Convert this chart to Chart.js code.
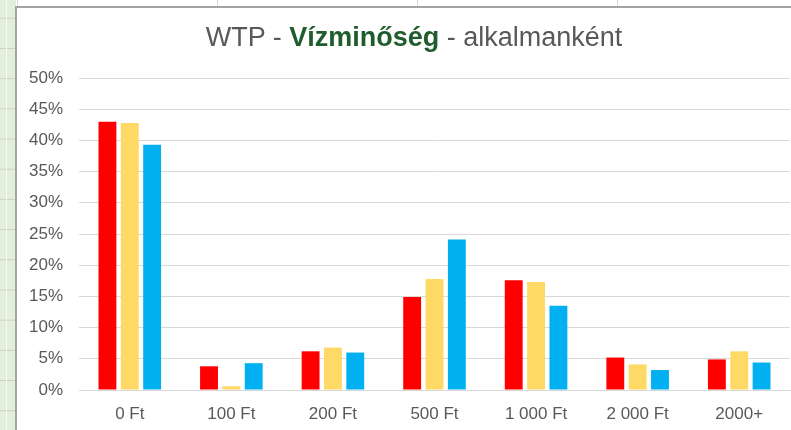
<!DOCTYPE html>
<html>
<head>
<meta charset="utf-8">
<script src="https://cdn.jsdelivr.net/npm/chart.js@4"></script>
<style>
    html, body { margin: 0; padding: 0; }
    body {
        width: 791px; height: 430px; overflow: hidden; position: relative;
        background: #fff; font-family: "Liberation Sans", Arial, sans-serif;
    }
    /* spreadsheet cells around the chart */
    #sheet-left {
        position: absolute; left: 0; top: 0; width: 16px; height: 430px;
        background-color: #e2efda;
        background-image: linear-gradient(to bottom, #c9d3c3 1px, transparent 1px);
        background-size: 100% 30.2px;
        background-position: 0 17.8px;
    }
    #sheet-left::after {
        content: ''; position: absolute; left: 6px; top: 0; width: 1px; height: 430px; background: #f4f8f1;
    }
    #sheet-top {
        position: absolute; left: 0; top: 0; width: 791px; height: 7px;
        background-image: linear-gradient(to right, #d4d4d4 1px, transparent 1px);
        background-size: 200px 100%;
        background-position: 17px 0;
    }
    #chart-box {
        position: absolute; left: 15px; top: 6px; width: 800px; height: 430px;
        border-left: 2px solid #a3a3a3; border-top: 2px solid #a3a3a3; background: #fff;
    }
    #title {
        position: absolute; left: 0; top: 24px; width: 828px; text-align: center;
        font-size: 27px; line-height: 27px; color: #595959; white-space: nowrap;
    }
    #title b { color: #1f5d2c; }
    #wrap { position: absolute; left: 18px; top: 9px; width: 773px; height: 421px; }
</style>
</head>
<body>
<div id="sheet-left"></div>
<div id="sheet-top"></div>
<div id="chart-box"></div>
<div id="wrap"><canvas id="wtpChart"></canvas></div>
<div id="title">WTP - <b>Vízminőség</b> - alkalmanként</div>
<script>
    // Data
    const categories = ['0 Ft', '100 Ft', '200 Ft', '500 Ft', '1 000 Ft', '2 000 Ft', '2000+'];
    const seriesNames = ['1. csoport', '2. csoport', '3. csoport'];
    const series1 = [43.0, 3.8, 6.2, 14.9, 17.6, 5.2, 4.9];
    const series2 = [42.8, 0.6, 6.8, 17.8, 17.3, 4.1, 6.2];
    const series3 = [39.3, 4.3, 6.0, 24.1, 13.5, 3.2, 4.4];
    const yTicks = [0, 5, 10, 15, 20, 25, 30, 35, 40, 45, 50];

    const colors = ['#ff0000', '#ffd966', '#00b0f0'];
    const labelColor = '#595959';
    const gridColor = '#d9d9d9';
    const tickFont = { family: '"Liberation Sans", Arial, sans-serif', size: 17 };

    const ctx = document.getElementById('wtpChart').getContext('2d');
    new Chart(ctx, {
        type: 'bar',
        data: {
            labels: categories,
            datasets: [series1, series2, series3].map((values, i) => ({
                label: seriesNames[i],
                data: values,
                backgroundColor: colors[i],
                borderWidth: 0,
                barPercentage: 0.8,
                categoryPercentage: 0.66
            }))
        },
        options: {
            responsive: true,
            maintainAspectRatio: false,
            animation: false,
            layout: { padding: { top: 69, right: 1, left: 0, bottom: 0 } },
            plugins: {
                legend: { display: false },
                tooltip: { enabled: false }
            },
            scales: {
                x: {
                    grid: { display: false, drawTicks: false },
                    border: { display: true, color: gridColor, width: 1 },
                    ticks: { color: labelColor, padding: 14, font: tickFont, maxRotation: 0 },
                    afterFit: scale => { scale.height = 40; }
                },
                y: {
                    min: yTicks[0],
                    max: yTicks[yTicks.length - 1],
                    afterBuildTicks: scale => { scale.ticks = yTicks.map(v => ({ value: v })); },
                    grid: { color: gridColor, lineWidth: 1, drawTicks: false },
                    border: { display: false },
                    ticks: {
                        color: labelColor,
                        padding: 16,
                        font: tickFont,
                        callback: value => value + '%'
                    },
                    afterFit: scale => { scale.width = 61; }
                }
            }
        }
    });
</script>
</body>
</html>
